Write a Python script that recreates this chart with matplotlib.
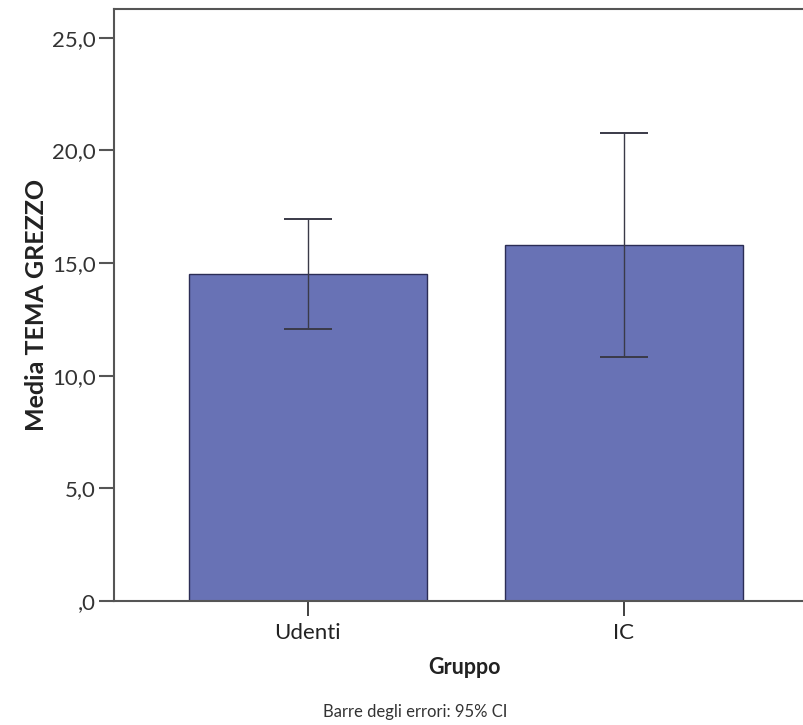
import matplotlib.pyplot as plt

gruppi = ["Udenti", "IC"]
medie = [14.51, 15.80]
ci_basso = [12.07, 10.83]
ci_alto = [16.95, 20.77]
yticks = [0, 5, 10, 15, 20, 25]
ytick_labels = [",0", "5,0", "10,0", "15,0", "20,0", "25,0"]

plt.rcParams['font.family'] = ['Lato', 'DejaVu Sans']

fig = plt.figure(figsize=(8.04, 7.25), dpi=100)
ax = fig.add_axes([0.1418, 0.171, 0.875, 0.8166])

x = list(range(len(gruppi)))
err_lo = [m - b for m, b in zip(medie, ci_basso)]
err_hi = [a - m for m, a in zip(medie, ci_alto)]

ax.bar(x, medie, width=0.753, color="#6872b5", edgecolor="#2b2d55", linewidth=1.0, zorder=2)
ax.errorbar(x, medie, yerr=[err_lo, err_hi], fmt="none", ecolor="#3a3a48",
            elinewidth=1.0, capsize=17.5, capthick=1.4, zorder=3)

ax.set_xlim(-0.614, 1.614)
ax.set_ylim(0, 26.27)
ax.set_xticks(x)
ax.set_xticklabels(gruppi, fontsize=16, color="#222222")
ax.set_yticks(yticks)
ax.set_yticklabels(ytick_labels, fontsize=16, color="#333333")

for s in ["left", "bottom", "top"]:
    ax.spines[s].set_color("#555555")
    ax.spines[s].set_linewidth(1.5)
ax.spines["right"].set_visible(False)
ax.tick_params(axis="y", length=11, width=1.5, color="#555555", pad=2)
ax.tick_params(axis="x", length=11, width=1.3, color="#333333", pad=5)

ax.set_ylabel("Media TEMA GREZZO", fontsize=18, fontweight="bold", labelpad=3,
              color="#222222")
fig.text(465 / 804, 1 - 667 / 725, "Gruppo", fontsize=15.5, fontweight="bold",
         ha="center", va="center", color="#222222")
fig.text(415 / 804, 1 - 712 / 725, "Barre degli errori: 95% CI", fontsize=12,
         ha="center", va="center", color="#333333")

fig.savefig("out.png", dpi=100)
